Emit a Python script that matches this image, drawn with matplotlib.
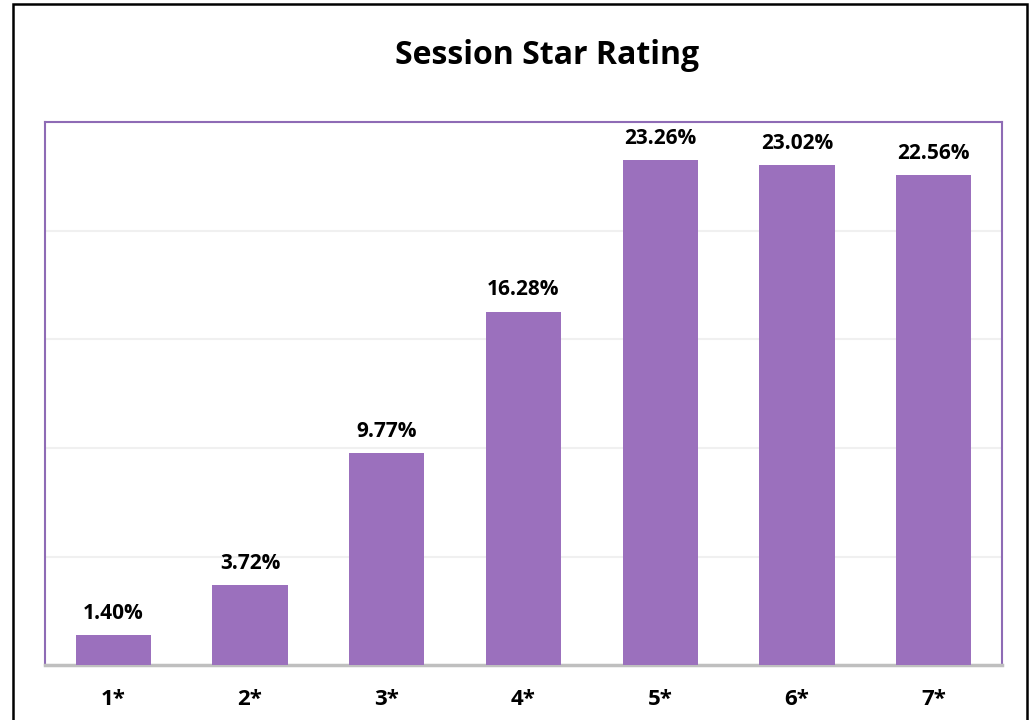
import matplotlib.pyplot as plt
from matplotlib.patches import Rectangle

# 数据
ratings = ['1*', '2*', '3*', '4*', '5*', '6*', '7*']
percents = [1.40, 3.72, 9.77, 16.28, 23.26, 23.02, 22.56]

plt.rcParams['font.family'] = ['Open Sans', 'DejaVu Sans']

fig = plt.figure(figsize=(10.29, 7.2), dpi=100)
ax = fig.add_axes([0.0437, 0.0757, 0.9301, 0.7549])

x = range(len(ratings))
bars = ax.bar(x, percents, width=0.55, color='#9B70BD', zorder=3)

# 数值标签
for b, v in zip(bars, percents):
    ax.annotate(f'{v:.2f}%', (b.get_x() + b.get_width() / 2, v),
                xytext=(0, 8), textcoords='offset points',
                ha='center', va='bottom', fontsize=15, fontweight='bold')

ax.set_xlim(-0.5, len(ratings) - 0.5)
ax.set_ylim(0, 25)
ax.set_yticks([0, 5, 10, 15, 20, 25])
ax.yaxis.grid(True, color='#F0F0F0', linewidth=1.5, zorder=0)
ax.tick_params(axis='y', left=False, labelleft=False)
ax.set_xticks(list(x))
ax.set_xticklabels(ratings, fontsize=16, fontweight='bold')
ax.tick_params(axis='x', length=0, pad=17)

for s in ['left', 'top', 'right']:
    ax.spines[s].set_color('#8E6BB5')
    ax.spines[s].set_linewidth(1.5)
ax.spines['bottom'].set_color('#BFBFBF')
ax.spines['bottom'].set_linewidth(2.5)

fig.text(0.532, 0.9236, 'Session Star Rating', ha='center', va='center',
         fontsize=23, fontweight='bold')

# 外框
fig.patches.append(Rectangle((0.0126, -0.05), 0.9854, 1.0444, transform=fig.transFigure,
                             fill=False, edgecolor='black', linewidth=1.8))

fig.savefig('out.png', dpi=100)
